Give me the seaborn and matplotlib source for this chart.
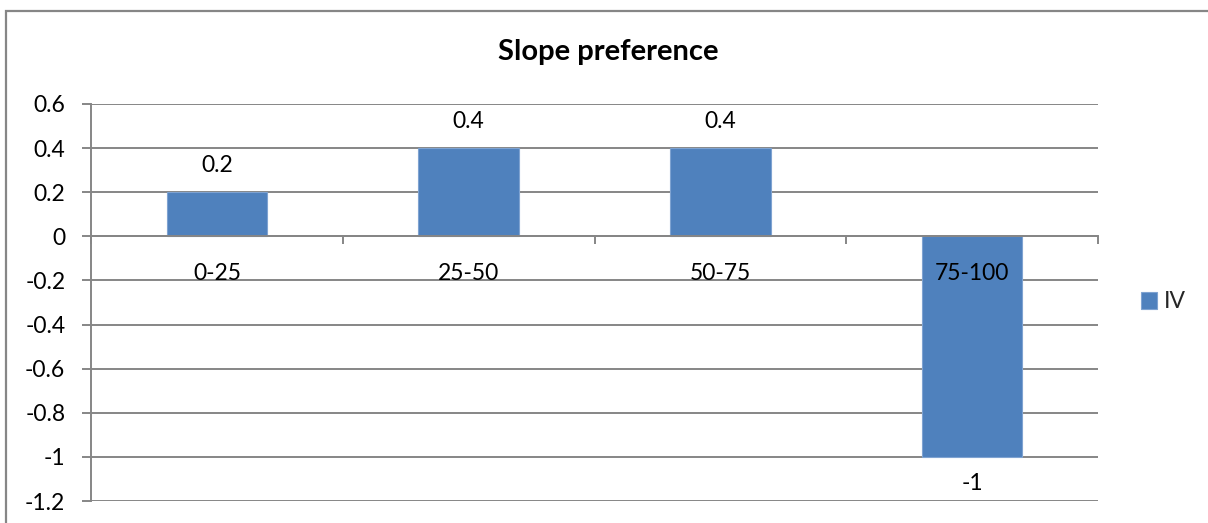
import matplotlib
matplotlib.use("Agg")
import matplotlib.pyplot as plt
import seaborn as sns
import pandas as pd
from matplotlib.patches import Rectangle

# Data
categories = ["0-25", "25-50", "50-75", "75-100"]
values = [0.2, 0.4, 0.4, -1.0]
series_name = "IV"
title = "Slope preference"
y_ticks = [0.6, 0.4, 0.2, 0.0, -0.2, -0.4, -0.6, -0.8, -1.0, -1.2]
y_tick_labels = ["0.6", "0.4", "0.2", "0", "-0.2", "-0.4", "-0.6", "-0.8", "-1", "-1.2"]
value_labels = ["0.2", "0.4", "0.4", "-1"]

BAR = "#4F81BD"
GRID = "#868686"
FONT = ["Lato", "DejaVu Sans"]
FS = 16.5

sns.set_theme(style="white")
plt.rcParams["font.family"] = FONT

W, H = 1208, 523
fig = plt.figure(figsize=(W / 100, H / 100), dpi=100)

# outer chart frame (only top and left edges fall inside the canvas)
fig.patches.append(Rectangle((6 / W, -0.1), 1.2, 1 - 11 / H + 0.1,
                             transform=fig.transFigure, fill=False,
                             edgecolor=GRID, linewidth=1.6))

ax = fig.add_axes([91 / W, 1 - 501 / H, (1098 - 91) / W, (501 - 104) / H])

df = pd.DataFrame({"category": categories, "value": values})
sns.barplot(data=df, x="category", y="value", color=BAR, width=0.4,
            saturation=1, ax=ax, label=series_name, zorder=2,
            edgecolor="#7FA3D1", linewidth=0.8)

ax.set_xlim(-0.5, len(categories) - 0.5)
ax.set_ylim(min(y_ticks), max(y_ticks))
ax.set_axisbelow(True)

# horizontal gridlines
ax.set_yticks(y_ticks)
ax.set_yticklabels(y_tick_labels, fontsize=FS)
ax.yaxis.grid(True, color=GRID, linewidth=1.4)
ax.tick_params(axis="y", which="major", left=True, length=6.5, width=1.4,
               color=GRID, pad=12, labelcolor="black")

# category axis sits on the zero line
for s in ["top", "right"]:
    ax.spines[s].set_visible(False)
ax.spines["left"].set_color(GRID)
ax.spines["left"].set_linewidth(1.4)
ax.spines["bottom"].set_position(("data", 0))
ax.spines["bottom"].set_color(GRID)
ax.spines["bottom"].set_linewidth(1.4)
ax.set_xticks(range(len(categories)))
ax.set_xticklabels([])
ax.tick_params(axis="x", which="major", bottom=False, length=0)
ax.set_xticks([i - 0.5 for i in range(len(categories) + 1)], minor=True)
ax.tick_params(axis="x", which="minor", bottom=True, length=6, width=1.4,
               color=GRID, direction="out")
ax.set_xlabel("")
ax.set_ylabel("")

# category labels drawn above the bars
for i, c in enumerate(categories):
    ax.annotate(c, xy=(i, 0), xytext=(0, -26.5), textcoords="offset points",
                ha="center", va="center", fontsize=FS, color="black", zorder=5)

# value labels
ax.bar_label(ax.containers[0], labels=value_labels, padding=11.5,
             fontsize=FS, color="black")

# title
fig.text(608 / W, 1 - 52 / H, title, ha="center", va="center",
         fontsize=21, fontweight="bold", color="black")

# legend
handles, labels = ax.get_legend_handles_labels()
leg = fig.legend(handles, labels, loc="center left",
                 bbox_to_anchor=(1141 / W, 1 - 302 / H), frameon=False,
                 fontsize=FS, handlelength=0.7, handleheight=0.7,
                 handletextpad=0.3, borderpad=0, borderaxespad=0)
if ax.get_legend() is not None:
    ax.get_legend().remove()

fig.savefig("out.png", dpi=100)
